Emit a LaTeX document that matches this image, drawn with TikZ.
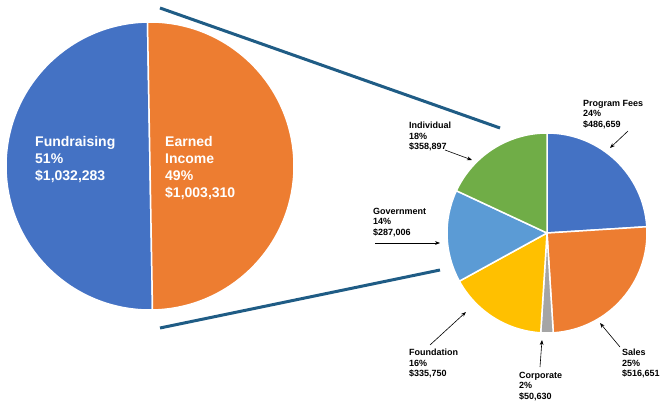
\documentclass[tikz,border=0pt]{standalone}
\usepackage{fontspec}
\setmainfont{Liberation Sans}
\usetikzlibrary{arrows.meta}
\definecolor{cblue}{HTML}{4472C4}
\definecolor{corange}{HTML}{ED7D31}
\definecolor{cgray}{HTML}{A5A5A5}
\definecolor{cyellow}{HTML}{FFC000}
\definecolor{clblue}{HTML}{5B9BD5}
\definecolor{cgreen}{HTML}{70AD47}
\definecolor{cline}{HTML}{1F5C85}
\begin{document}
\begin{tikzpicture}[x=1pt,y=1pt,
  big/.style={font=\bfseries\fontsize{14}{17}\selectfont,text=white,align=left,anchor=north west,inner sep=0pt},
  lab/.style={font=\bfseries\fontsize{9}{10.5}\selectfont,align=left,anchor=north west,inner sep=0pt},
  sep/.style={draw=white,line width=1.5pt},
  arr/.style={-{Stealth[length=5pt]},line width=0.6pt}]
\useasboundingbox (0,0) rectangle (662,408);
% big pie
\coordinate (B) at (150,242);
\fill[cblue,sep] (B) -- ++(91:144) arc (91:271:144) -- cycle;
\fill[corange,sep] (B) -- ++(-89:144) arc (-89:91:144) -- cycle;
\node[big] (fund) at (35,272) {Fundraising\\51\%\\\$1,032,283};
\node[big] (earn) at (165,272) {Earned\\Income\\49\%\\\$1,003,310};
% connector lines
\coordinate (t1) at (160,400); \coordinate (t2) at (500,280);
\coordinate (b1) at (160,80); \coordinate (b2) at (440,138);
\draw[cline,line width=3pt] (t1) -- (t2);
\draw[cline,line width=3pt] (b1) -- (b2);
% small pie
\coordinate (S) at (547,175);
\def\r{100}
\fill[cblue,sep] (S) -- ++(90:\r) arc (90:3.6:\r) -- cycle;
\fill[corange,sep] (S) -- ++(3.6:\r) arc (3.6:-86.4:\r) -- cycle;
\fill[cgray,sep] (S) -- ++(-86.4:\r) arc (-86.4:-93.6:\r) -- cycle;
\fill[cyellow,sep] (S) -- ++(-93.6:\r) arc (-93.6:-151.2:\r) -- cycle;
\fill[clblue,sep] (S) -- ++(-151.2:\r) arc (-151.2:-205:\r) -- cycle;
\fill[cgreen,sep] (S) -- ++(-205:\r) arc (-205:-270:\r) -- cycle;
% labels
\node[lab] (pf) at (583,308) {Program Fees\\24\%\\\$486,659};
\node[lab] (ind) at (409,286) {Individual\\18\%\\\$358,897};
\node[lab] (gov) at (373,200) {Government\\14\%\\\$287,006};
\node[lab] (fou) at (409,59) {Foundation\\16\%\\\$335,750};
\node[lab] (cor) at (519,36) {Corporate\\2\%\\\$50,630};
\node[lab] (sal) at (622,59) {Sales\\25\%\\\$516,651};
\coordinate (pfa) at (610,260); \coordinate (pfs) at (628,277);
\coordinate (ina) at (472,248); \coordinate (ins) at (445,258);
\coordinate (goa) at (440,165); \coordinate (gos) at (375,165);
\coordinate (foa) at (466,96); \coordinate (fos) at (430,63);
\coordinate (coa) at (542,68); \coordinate (cos) at (540,41);
\coordinate (saa) at (600,85); \coordinate (sas) at (620,61);
\draw[arr] (pfs) -- (pfa);
\draw[arr] (ins) -- (ina);
\draw[arr] (gos) -- (goa);
\draw[arr] (fos) -- (foa);
\draw[arr] (cos) -- (coa);
\draw[arr] (sas) -- (saa);
\end{tikzpicture}
\end{document}
